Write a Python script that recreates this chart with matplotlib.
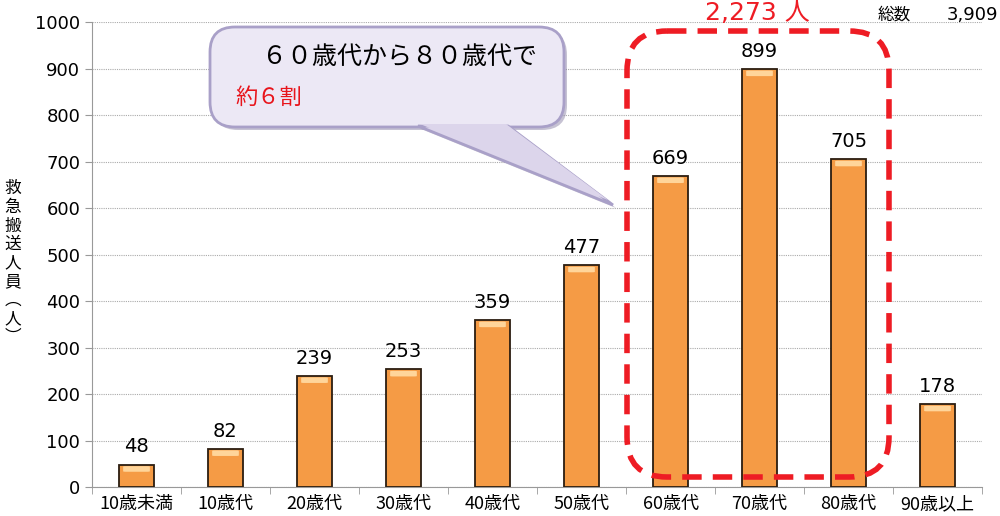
import numpy as np
import matplotlib.pyplot as plt
from matplotlib.patches import FancyBboxPatch, Polygon

plt.rcParams['font.family'] = ['Noto Sans CJK JP', 'DejaVu Sans']

categories = ['10歳未満', '10歳代', '20歳代', '30歳代', '40歳代',
              '50歳代', '60歳代', '70歳代', '80歳代', '90歳以上']
counts = [48, 82, 239, 253, 359, 477, 669, 899, 705, 178]
yticks = np.arange(0, 1001, 100)

fig = plt.figure(figsize=(10, 5.16), dpi=100)
ax = fig.add_axes([0.092, 0.056, 0.89, 0.901])

x = np.arange(len(categories))
bars = ax.bar(x, counts, width=0.4, color='#F59B45', edgecolor='#2b1d10',
              linewidth=1.3, zorder=3)
# light strip at the top of each bar
for b in bars:
    h = min(12, b.get_height() * 0.3)
    ax.add_patch(FancyBboxPatch((b.get_x() + 0.05, b.get_height() - h - 3), b.get_width() - 0.1, h,
                                boxstyle='round,pad=0,rounding_size=0.03',
                                fc='#FFD59A', ec='none', zorder=4, mutation_aspect=30))
for xi, v in zip(x, counts):
    ax.text(xi, v + 18, str(v), ha='center', va='bottom', fontsize=14, family='DejaVu Sans')

ax.set_xlim(-0.5, len(categories) - 0.5)
ax.set_ylim(0, 1000)
ax.set_yticks(yticks)
ax.set_xticks(x)
ax.set_xticklabels(categories, fontsize=13)
ax.set_xticks(np.arange(-0.5, len(categories), 1), minor=True)
ax.tick_params(axis='x', which='major', length=0, pad=6)
ax.tick_params(axis='x', which='minor', length=5, color='#999999')
ax.tick_params(axis='y', length=5, color='#999999', labelsize=13)
for lab in ax.get_yticklabels():
    lab.set_family('DejaVu Sans')
ax.yaxis.grid(True, linestyle=(0, (1, 1)), color='#aaaaaa', linewidth=0.8, zorder=0)
for s in ['top', 'right']:
    ax.spines[s].set_visible(False)
for s in ['left', 'bottom']:
    ax.spines[s].set_color('#999999')

# y label as stacked characters
fig.text(0.013, 0.49, '\n'.join('救急搬送人員︵人︶'), ha='center', va='center',
         fontsize=12, linespacing=1.12)

# overlay in pixel coordinates for annotations
ov = fig.add_axes([0, 0, 1, 1], zorder=5)
ov.set_xlim(0, 1000)
ov.set_ylim(516, 0)
ov.axis('off')

# callout with shadow
ov.add_patch(FancyBboxPatch((213, 30), 354, 100, boxstyle='round,pad=0,rounding_size=25',
                            fc='#8e86a8', ec='none', alpha=0.5))
ov.add_patch(Polygon([(421, 129), (511, 129), (616, 208)], closed=True,
                     fc='#8e86a8', ec='none', alpha=0.5))
ov.add_patch(FancyBboxPatch((210, 27), 354, 100, boxstyle='round,pad=0,rounding_size=25',
                            fc='#ECE8F5', ec='#A9A0C8', lw=2))
ov.add_patch(Polygon([(418, 126), (508, 126), (613, 205)], closed=True,
                     fc='#DCD5EB', ec='#A9A0C8', lw=2))
ov.add_patch(Polygon([(420, 124), (506, 124), (608, 200)], closed=True, fc='#DCD5EB', ec='none'))
ov.text(262, 57, '６０歳代から８０歳代で', fontsize=18, va='center', ha='left')
ov.text(235, 97, '約６割', fontsize=16, color='#E8141B', va='center', ha='left')

# dashed group box
ov.add_patch(FancyBboxPatch((627, 31), 262, 446,
                            boxstyle='round,pad=0,rounding_size=40',
                            fc='none', ec='#EE1C24', lw=4, linestyle=(0, (3.5, 2))))
ov.text(757, 13, '2,273 人', fontsize=18, color='#EE1C24', ha='center', va='center',
        family=['DejaVu Sans', 'Noto Sans CJK JP'])
ov.text(878, 15, '総数', fontsize=12, ha='left', va='center')
ov.text(998, 15, '3,909', fontsize=13, ha='right', va='center', family='DejaVu Sans')

fig.savefig('out.png', dpi=100)
